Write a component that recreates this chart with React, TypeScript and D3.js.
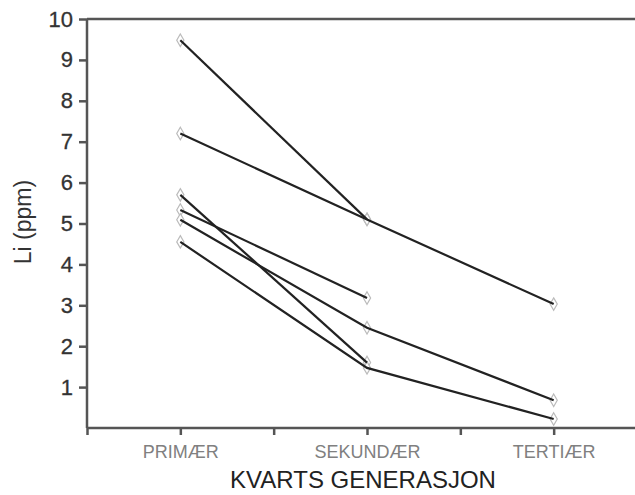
import React, { useEffect, useRef } from 'react';
import * as d3 from 'd3';

// categories along the x axis (placed at positions 1, 3, 5)
const categories = ['PRIMÆR', 'SEKUNDÆR', 'TERTIÆR'];
const categoryPos = [1, 3, 5];

// Li (ppm) for each sample, null where no value
const sample1 = [9.48, 5.1, null];
const sample2 = [7.2, 5.1, 3.03];
const sample3 = [5.7, 1.6, null];
const sample4 = [5.33, 3.18, null];
const sample5 = [5.09, 2.45, 0.68];
const sample6 = [4.55, 1.47, 0.22];
const samples = [sample1, sample2, sample3, sample4, sample5, sample6];

const yTicks = [1, 2, 3, 4, 5, 6, 7, 8, 9, 10];
const xTicks = [0, 1, 2, 3, 4, 5, 6];

const App = () => {
  const svgRef = useRef<SVGSVGElement>(null);

  useEffect(() => {
    const width = 635;
    const height = 495;
    const left = 87, right = 647, top = 19, bottom = 428;

    const svg = d3.select(svgRef.current);
    svg.selectAll('*').remove();
    svg.attr('width', width).attr('height', height);

    const x = d3.scaleLinear().domain([0, 6]).range([left, right]);
    const y = d3.scaleLinear().domain([0, 10]).range([bottom, top]);

    const axisColor = '#555';
    const font = 'Liberation Sans, Arial, sans-serif';

    // frame (top and right edges)
    svg.append('path')
      .attr('d', `M${left},${top}H${right}V${bottom}`)
      .attr('fill', 'none')
      .attr('stroke', axisColor)
      .attr('stroke-width', 2.5);

    // Y axis
    const yAxis = svg.append('g')
      .attr('transform', `translate(${left},0)`)
      .call(d3.axisLeft(y).tickValues(yTicks).tickSize(8).tickPadding(6).tickFormat(d3.format('d')));
    yAxis.select('.domain').remove();
    yAxis.selectAll('line').attr('stroke', axisColor).attr('stroke-width', 2.5);
    yAxis.selectAll('text')
      .attr('font-family', font)
      .attr('font-size', 22)
      .attr('fill', '#333')
      .attr('stroke', '#333')
      .attr('stroke-width', 0.3);
    svg.append('line')
      .attr('x1', left).attr('x2', left)
      .attr('y1', top).attr('y2', bottom)
      .attr('stroke', axisColor).attr('stroke-width', 2.5);

    // X axis
    const xAxis = svg.append('g')
      .attr('transform', `translate(0,${bottom})`)
      .call(d3.axisBottom(x).tickValues(xTicks).tickSize(7).tickPadding(10)
        .tickFormat(d => {
          const i = categoryPos.indexOf(+d);
          return i >= 0 ? categories[i] : '';
        }));
    xAxis.select('.domain').remove();
    xAxis.selectAll('line').attr('stroke', axisColor).attr('stroke-width', 2.5);
    xAxis.selectAll('text')
      .attr('font-family', font)
      .attr('font-size', 18)
      .attr('fill', '#808080');
    svg.append('line')
      .attr('x1', left).attr('x2', right)
      .attr('y1', bottom).attr('y2', bottom)
      .attr('stroke', axisColor).attr('stroke-width', 2.5);

    // markers
    const diamond = d3.symbol().type(d3.symbolDiamond).size(45);
    samples.forEach(s => {
      s.forEach((v, i) => {
        if (v == null) return;
        svg.append('path')
          .attr('d', diamond())
          .attr('transform', `translate(${x(categoryPos[i])},${y(v)})`)
          .attr('fill', '#fff')
          .attr('stroke', '#bbb')
          .attr('stroke-width', 1.2);
      });
    });

    // lines
    const line = d3.line<number | null>()
      .defined(d => d != null)
      .x((d, i) => x(categoryPos[i]))
      .y(d => y(d as number));
    samples.forEach(s => {
      svg.append('path')
        .datum(s)
        .attr('d', line)
        .attr('fill', 'none')
        .attr('stroke', '#222')
        .attr('stroke-width', 2.2);
    });

    // axis titles
    svg.append('text')
      .attr('x', 363)
      .attr('y', 488)
      .attr('text-anchor', 'middle')
      .attr('font-family', font)
      .attr('font-size', 24)
      .attr('fill', '#222')
      .text('KVARTS GENERASJON');

    svg.append('text')
      .attr('transform', 'rotate(-90)')
      .attr('x', -222)
      .attr('y', 31)
      .attr('text-anchor', 'middle')
      .attr('font-family', font)
      .attr('font-size', 23)
      .attr('fill', '#333')
      .text('Li (ppm)');
  }, []);

  return (
    <svg ref={svgRef} style={{ position: 'absolute', left: 0, top: 0, background: '#fff' }}></svg>
  );
};

export default App;
